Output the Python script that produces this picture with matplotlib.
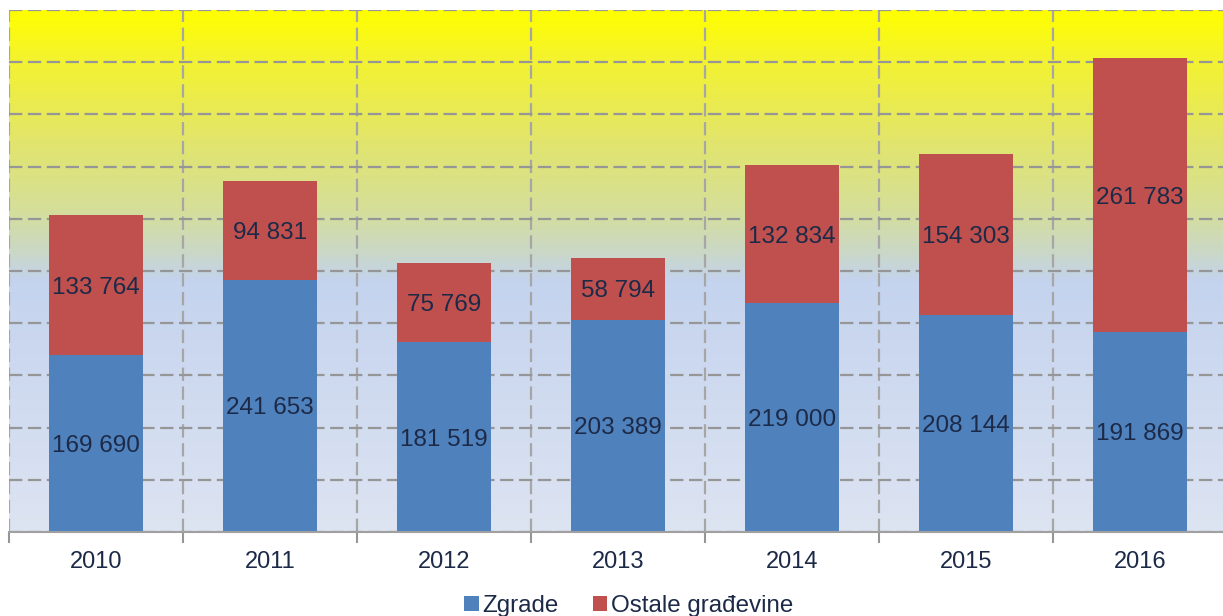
import numpy as np
import matplotlib.pyplot as plt
from matplotlib.colors import LinearSegmentedColormap

years = ['2010', '2011', '2012', '2013', '2014', '2015', '2016']
zgrade = [169690, 241653, 181519, 203389, 219000, 208144, 191869]
ostale = [133764, 94831, 75769, 58794, 132834, 154303, 261783]
labels = ['Zgrade', 'Ostale građevine']


def fmt(v):
    return f'{v:,}'.replace(',', ' ')


def main():
    plt.rcParams['font.family'] = ['Liberation Sans', 'DejaVu Sans']
    text_col = '#1c2a48'
    grid_col = '#969696'

    fig = plt.figure(figsize=(12.23, 6.16), dpi=100)
    ax = fig.add_axes([9 / 1223, 1 - 532 / 616, 1218 / 1223, 522 / 616])

    x = np.arange(len(years))
    ymax = 500000

    # background gradient, yellow on top to pale blue at bottom
    cmap = LinearSegmentedColormap.from_list('bg', [
        (0.0, '#ffff00'),
        (0.10, '#f3f232'),
        (0.25, '#e2e56c'),
        (0.38, '#d5df98'),
        (0.46, '#cbd8c4'),
        (0.52, '#c4d3ee'),
        (1.0, '#dde4f2'),
    ])
    grad = np.linspace(0, 1, 256).reshape(-1, 1)
    ax.imshow(grad, cmap=cmap, aspect='auto', origin='upper',
              extent=(-0.5, len(years) - 0.5, 0, ymax), zorder=0)

    b1 = ax.bar(x, zgrade, width=0.54, color='#4f81bd', zorder=3, label=labels[0])
    b2 = ax.bar(x, ostale, width=0.54, bottom=zgrade, color='#c0504d',
                zorder=3, label=labels[1])

    for i in range(len(years)):
        ax.text(x[i], zgrade[i] / 2, fmt(zgrade[i]), ha='center',
                va='center_baseline', fontsize=17.5, color=text_col, zorder=4)
        ax.text(x[i], zgrade[i] + ostale[i] / 2, fmt(ostale[i]), ha='center',
                va='center_baseline', fontsize=17.5, color=text_col, zorder=4)

    ax.set_xlim(-0.5, len(years) - 0.5)
    ax.set_ylim(0, ymax)
    ax.set_xticks(x)
    ax.set_xticklabels(years, fontsize=17, color=text_col)
    ax.set_xticks(np.arange(len(years) + 1) - 0.5, minor=True)
    ax.set_yticks(np.arange(0, ymax + 1, 50000))
    ax.tick_params(axis='x', which='major', length=0, pad=14)
    ax.tick_params(axis='x', which='minor', length=8, width=1.5, color=grid_col)
    ax.tick_params(axis='y', length=0, labelleft=False)

    ax.grid(True, which='major', axis='y', color=grid_col, lw=1.6,
            dashes=(6, 2.5), zorder=1)
    ax.grid(True, which='minor', axis='x', color='#a6a6a6', lw=1.6,
            dashes=(6, 2.5), zorder=1)
    ax.set_axisbelow(True)

    for s in ['top', 'right', 'left']:
        ax.spines[s].set_visible(False)
    ax.spines['bottom'].set_color('#a0a0a0')
    ax.spines['bottom'].set_linewidth(1.5)
    ax.spines['bottom'].set_zorder(5)

    fig.legend(handles=[b1, b2], labels=labels, loc='center',
               bbox_to_anchor=(0.514, 1 - 606 / 616), ncol=2, frameon=False,
               fontsize=17.4, handlelength=0.6, handleheight=0.6,
               handletextpad=0.15, columnspacing=1.4, labelcolor=text_col)

    fig.savefig('out.png', dpi=100)


if __name__ == '__main__':
    main()
